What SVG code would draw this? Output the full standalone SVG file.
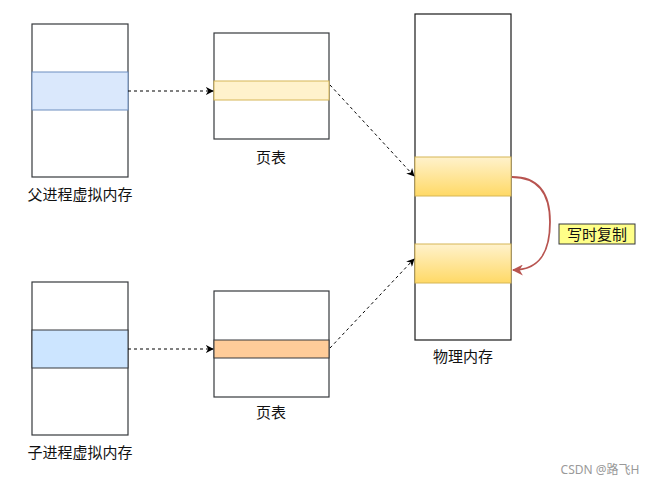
<svg xmlns="http://www.w3.org/2000/svg" width="656" height="485" viewBox="0 0 656 485">
<defs>
<linearGradient id="gy" x1="0" y1="0" x2="0" y2="1">
<stop offset="0" stop-color="#fff2cc"/>
<stop offset="1" stop-color="#ffd966"/>
</linearGradient>
<marker id="ah" viewBox="0 0 10 10" refX="9" refY="5" markerWidth="8" markerHeight="8" orient="auto" markerUnits="userSpaceOnUse">
<path d="M0,0 L10,5 L0,10 L3,5 Z" fill="#000"/>
</marker>
<marker id="ahr" viewBox="0 0 10 10" refX="9" refY="5" markerWidth="11" markerHeight="11" orient="auto" markerUnits="userSpaceOnUse">
<path d="M0,0 L10,5 L0,10 L3,5 Z" fill="#b85450"/>
</marker>
</defs>
<style>
.box{fill:#fff;stroke:#36393d;stroke-width:1.2}
.lbl{font-family:"Noto Sans CJK SC","Noto Sans",sans-serif;font-size:15px;fill:#111;text-anchor:middle}
.conn{fill:none;stroke:#000;stroke-width:1;stroke-dasharray:3 3}
</style>
<rect width="656" height="485" fill="#fff"/>

<g id="parent-vm">
<rect class="box" x="32" y="24" width="96" height="153"/>
<rect x="32" y="72" width="96" height="38" fill="#dae8fc" stroke="#6c8ebf" stroke-width="1"/>
<text class="lbl" x="80" y="200">父进程虚拟内存</text>
</g>

<g id="parent-pt">
<rect class="box" x="214" y="33" width="115" height="106"/>
<rect x="214" y="81" width="115" height="19" fill="#fff2cc" stroke="#d6b656" stroke-width="1"/>
<text class="lbl" x="271" y="163">页表</text>
</g>

<g id="phys">
<rect x="415" y="14" width="96" height="326" fill="#fff" stroke="#1a1a1a" stroke-width="1.2"/>
<rect x="415" y="157" width="96" height="39" fill="url(#gy)" stroke="#d6b656" stroke-width="1"/>
<rect x="415" y="244" width="96" height="39" fill="url(#gy)" stroke="#d6b656" stroke-width="1"/>
<text class="lbl" x="463" y="362">物理内存</text>
</g>

<g id="cow-label">
<rect x="559" y="224" width="76" height="20" fill="#ffff88" stroke="#36393d" stroke-width="1"/>
<text class="lbl" x="597" y="239.5">写时复制</text>
</g>

<g id="child-vm">
<rect class="box" x="32" y="282" width="96" height="153"/>
<rect x="32" y="330" width="96" height="38" fill="#cce5ff" stroke="#36393d" stroke-width="1"/>
<text class="lbl" x="80" y="458">子进程虚拟内存</text>
</g>

<g id="child-pt">
<rect class="box" x="214" y="291" width="115" height="106"/>
<rect x="214" y="340" width="115" height="18" fill="#ffcc99" stroke="#36393d" stroke-width="1"/>
<text class="lbl" x="271" y="418">页表</text>
</g>

<g id="connectors">
<line class="conn" x1="128" y1="91" x2="213" y2="91" marker-end="url(#ah)"/>
<line class="conn" x1="128" y1="349" x2="213" y2="349" marker-end="url(#ah)"/>
<line class="conn" x1="330" y1="85" x2="414" y2="176" marker-end="url(#ah)"/>
<line class="conn" x1="330" y1="348" x2="414" y2="259" marker-end="url(#ah)"/>
<path d="M512,177 C540,177 550,195 550,222 C550,252 540,270 513,270" fill="none" stroke="#b85450" stroke-width="1.8" marker-end="url(#ahr)"/>
</g>

<text x="600" y="474" style="font-family:'Noto Sans','Noto Sans CJK SC',sans-serif;font-size:12px;fill:#999;text-anchor:middle">CSDN @路飞H</text>
</svg>
